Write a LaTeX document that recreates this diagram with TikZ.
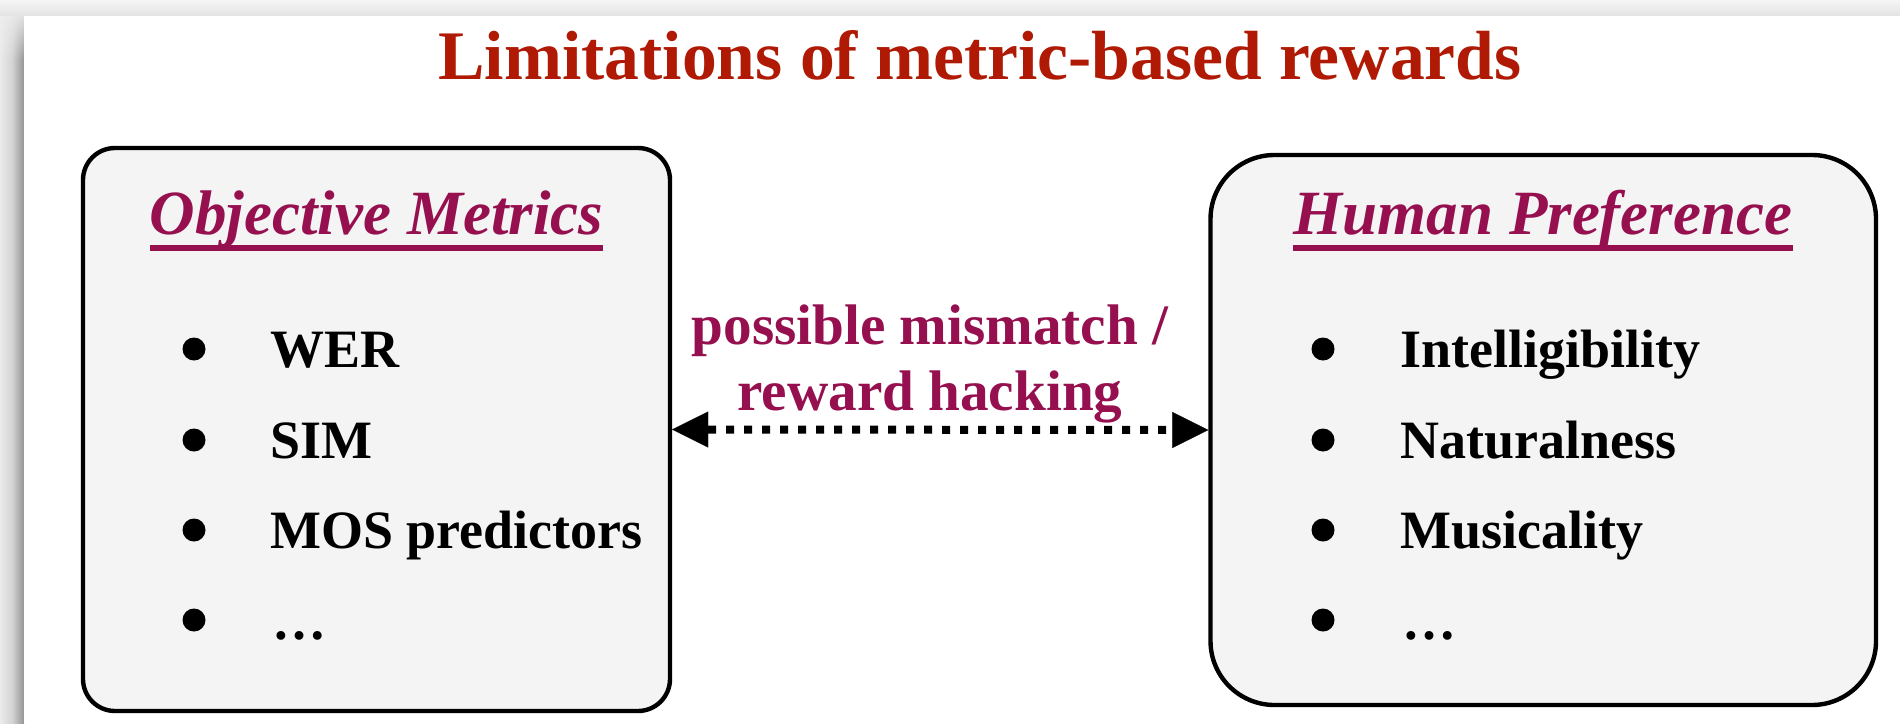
\documentclass[tikz,border=0pt]{standalone}
\usepackage{fontspec}
\setmainfont{Liberation Serif}
\usetikzlibrary{arrows.meta,shadings}

\definecolor{titlered}{RGB}{176,26,4}
\definecolor{headmaroon}{RGB}{150,16,80}
\definecolor{panelfill}{RGB}{244,244,244}
\definecolor{bandgray}{RGB}{238,238,238}

\tikzset{
  panel/.style={draw=black, line width=2.2pt, fill=panelfill, inner sep=0pt},
  heading/.style={text=headmaroon, inner sep=0pt, anchor=base,
    font=\fontsize{31.5pt}{36pt}\selectfont\bfseries\itshape},
  headrule/.style={draw=headmaroon, line width=2.7pt},
  itemtext/.style={inner sep=0pt, anchor=base west,
    font=\fontsize{27pt}{32pt}\selectfont\bfseries},
  dot/.style={circle, fill=black, inner sep=0pt, minimum size=11.5pt},
  midtext/.style={text=headmaroon, inner sep=0pt, anchor=base,
    font=\fontsize{28.6pt}{33pt}\selectfont\bfseries},
  mismatch/.style={line width=4pt, dash pattern=on 4pt off 5pt,
    {Triangle[length=18pt,width=18pt,line width=0.1pt]}-{Triangle[length=18pt,width=18pt,line width=0.1pt]}},
}

\begin{document}
\begin{tikzpicture}[x=0.5pt, y=-0.5pt]
  \useasboundingbox (0,0) rectangle (1900,723);

  % window frame: grey band on top and soft shadow on the left
  \fill[bandgray] (0,0) rectangle (1900,723);
  \shade[top color=black!4, bottom color=black!11] (0,0) rectangle (1900,16);
  \shade[upper left=black!7, upper right=black!9, lower left=black!8, lower right=black!17]
    (0,16) rectangle (12,60);
  \shade[upper left=black!9, upper right=black!12, lower left=black!17, lower right=black!42]
    (12,16) rectangle (24,60);
  \shade[left color=black!8, right color=black!17] (0,60) rectangle (12,723);
  \shade[left color=black!17, right color=black!42] (12,60) rectangle (24,723);
  \fill[white] (24,16) rectangle (1900,723);

  % title
  \node[text=titlered, inner sep=0pt, anchor=base,
        font=\fontsize{34.8pt}{40pt}\selectfont\bfseries] (title) at (980,79)
        {Limitations of metric-based rewards};

  % the two panels
  \node[panel, rounded corners=16pt, minimum width=293.5pt, minimum height=281.5pt]
    (obj) at (376.5,429.5) {};
  \node[panel, rounded corners=32pt, minimum width=332.75pt, minimum height=275pt]
    (hum) at (1543.25,430) {};

  % panel headings with underlines
  \node[heading] (objhead) at (376.5,234) {Objective Metrics};
  \draw[headrule] ([yshift=-7pt]objhead.base west) -- ([yshift=-7pt]objhead.base east);
  \node[heading] (humhead) at (1543,234) {Human Preference};
  \draw[headrule] ([yshift=-7pt]humhead.base west) -- ([yshift=-7pt]humhead.base east);

  % left list
  \node[dot] (ob1) at (194,349) {};
  \node[dot] (ob2) at (194,440) {};
  \node[dot] (ob3) at (194,530) {};
  \node[dot] (ob4) at (194,620) {};
  \node[itemtext] (ot1) at (270,367) {WER};
  \node[itemtext] (ot2) at (270,458) {SIM};
  \node[itemtext] (ot3) at (270,548) {MOS predictors};
  \node[itemtext] (ot4) at (272,639) {…};

  % right list
  \node[dot] (hb1) at (1323,349) {};
  \node[dot] (hb2) at (1323,440) {};
  \node[dot] (hb3) at (1323,530) {};
  \node[dot] (hb4) at (1323,620) {};
  \node[itemtext] (ht1) at (1400,367) {Intelligibility};
  \node[itemtext] (ht2) at (1400,458) {Naturalness};
  \node[itemtext] (ht3) at (1400,548) {Musicality};
  \node[itemtext] (ht4) at (1402,639) {…};

  % connector between the panels
  \node[midtext] (mid1) at (930,344) {possible mismatch /};
  \node[midtext] (mid2) at (930,410) {reward hacking};
  \draw[mismatch] (obj.east) -- (hum.west);
\end{tikzpicture}
\end{document}
